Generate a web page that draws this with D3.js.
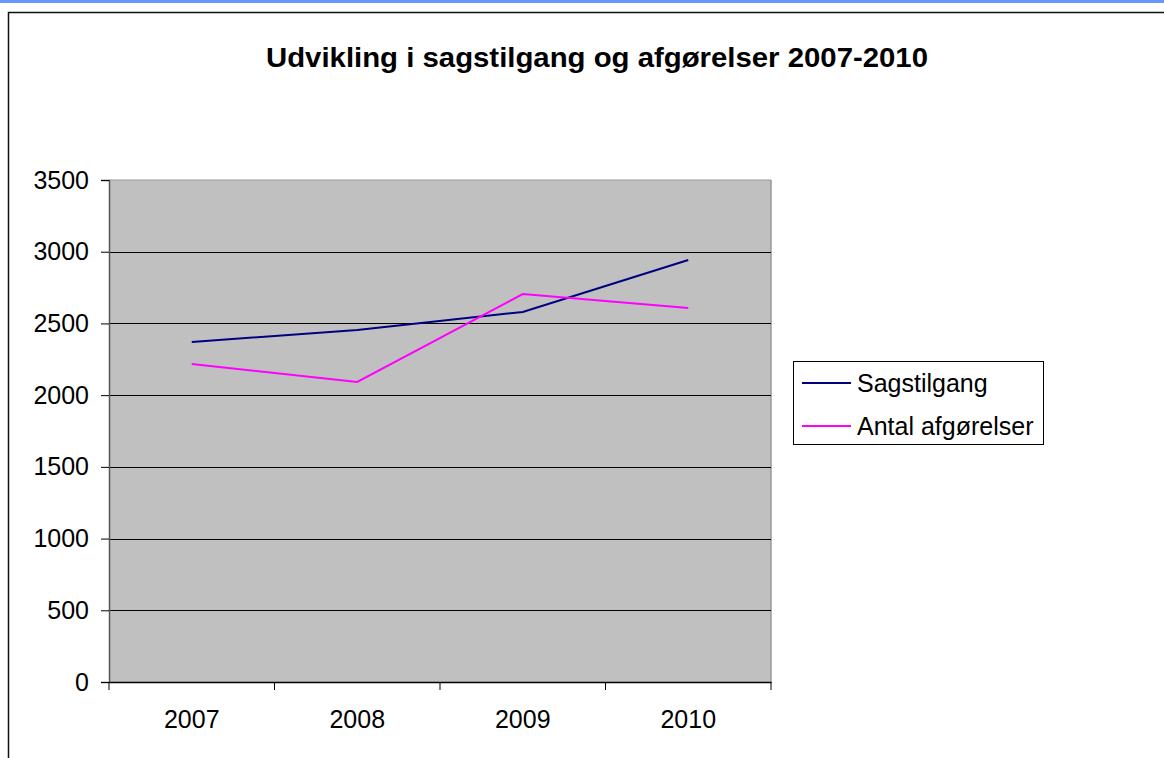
<!DOCTYPE html>
<html>
<head>
<meta charset="utf-8">
<script src="https://cdnjs.cloudflare.com/ajax/libs/d3/7.8.5/d3.min.js"></script>
<style>
  html, body { margin: 0; padding: 0; background: #fff; }
  svg { display: block; font-family: 'Liberation Sans', Arial, sans-serif; }
</style>
</head>
<body>
<div id="chart"></div>
<script>
const title = 'Udvikling i sagstilgang og afgørelser 2007-2010';
const years = ['2007', '2008', '2009', '2010'];
const sagstilgang = [2370, 2455, 2580, 2942];
const afgorelser = [2217, 2092, 2705, 2608];
const yTicks = [0, 500, 1000, 1500, 2000, 2500, 3000, 3500];

const series = [
  { name: 'Sagstilgang', values: sagstilgang, color: '#000080' },
  { name: 'Antal afgørelser', values: afgorelser, color: '#ff00ff' },
];

const font = "'Liberation Sans', Arial, sans-serif";
const w = 1164;
const h = 758;
const m = { t: 180, r: 393, b: 76, l: 109 };

const svg = d3.select('#chart').append('svg').attr('width', w).attr('height', h);

// blue strip at the very top
svg.append('rect').attr('x', 0).attr('y', 0).attr('width', w).attr('height', 3).attr('fill', '#6699ff');

// chart frame (runs off the right and bottom edge)
svg.append('rect')
  .attr('x', 8.5).attr('y', 12.5)
  .attr('width', w + 20).attr('height', h + 20)
  .attr('fill', 'none').attr('stroke', '#111').attr('stroke-width', 1.5);

svg.append('text')
  .attr('x', 597).attr('y', 67)
  .attr('text-anchor', 'middle')
  .attr('font-size', 28).attr('font-weight', 'bold')
  .attr('textLength', 662).attr('lengthAdjust', 'spacingAndGlyphs')
  .text(title);

const x = d3.scaleBand().domain(years).range([m.l, w - m.r]);
const y = d3.scaleLinear().domain([0, 3500]).range([h - m.b, m.t]);

// plot area
svg.append('rect')
  .attr('x', m.l).attr('y', m.t)
  .attr('width', w - m.r - m.l).attr('height', h - m.b - m.t)
  .attr('fill', '#c0c0c0');

svg.append('line')
  .attr('x1', w - m.r).attr('x2', w - m.r)
  .attr('y1', m.t).attr('y2', h - m.b)
  .attr('stroke', '#999').attr('stroke-width', 1.5);
svg.append('line')
  .attr('x1', m.l).attr('x2', w - m.r)
  .attr('y1', m.t).attr('y2', m.t)
  .attr('stroke', '#999').attr('stroke-width', 1);

// gridlines
svg.append('g')
  .selectAll('line')
  .data(yTicks.filter((d) => d > 0 && d < 3500))
  .join('line')
  .attr('x1', m.l).attr('x2', w - m.r)
  .attr('y1', (d) => Math.round(y(d)) + 0.5).attr('y2', (d) => Math.round(y(d)) + 0.5)
  .attr('stroke', '#000').attr('stroke-width', 1);

// y axis
const yAxis = svg.append('g')
  .attr('transform', `translate(${m.l},0)`)
  .attr('font-size', 25).attr('font-family', font)
  .call(d3.axisLeft(y).tickValues(yTicks).tickFormat(d3.format('d')).tickSize(8).tickPadding(12));
yAxis.attr('font-size', 25).attr('font-family', font);
yAxis.select('.domain').attr('stroke', '#555').attr('stroke-width', 1.5);
yAxis.selectAll('.tick line').attr('stroke', '#000');
yAxis.selectAll('text').attr('fill', '#000');

// x axis with ticks at band edges
const xAxis = svg.append('g')
  .attr('transform', `translate(0,${h - m.b})`)
  .call(d3.axisBottom(x).tickSize(0).tickPadding(28));
xAxis.attr('font-size', 25).attr('font-family', font);
xAxis.select('.domain').attr('stroke', '#000').attr('stroke-width', 1.5);
xAxis.selectAll('text').attr('fill', '#000');
const edges = years.map((d) => x(d)).concat([x(years[years.length - 1]) + x.bandwidth()]);
xAxis.selectAll('.edge')
  .data(edges)
  .join('line')
  .attr('class', 'edge')
  .attr('x1', (d) => d).attr('x2', (d) => d)
  .attr('y1', 0).attr('y2', 8)
  .attr('stroke', '#000');

const line = d3.line()
  .x((d, i) => x(years[i]) + x.bandwidth() / 2)
  .y((d) => y(d));

svg.append('g')
  .selectAll('path')
  .data(series)
  .join('path')
  .attr('d', (d) => line(d.values))
  .attr('fill', 'none')
  .attr('stroke', (d) => d.color)
  .attr('stroke-width', 2);

// legend
const lg = svg.append('g').attr('transform', 'translate(793,361)');
lg.append('rect')
  .attr('x', 0.5).attr('y', 0.5).attr('width', 250).attr('height', 83)
  .attr('fill', '#fff').attr('stroke', '#000');
const item = lg.selectAll('.item')
  .data(series)
  .join('g')
  .attr('class', 'item')
  .attr('transform', (d, i) => `translate(0,${22 + i * 43})`);
item.append('line')
  .attr('x1', 9).attr('x2', 58).attr('y1', 0).attr('y2', 0)
  .attr('stroke', (d) => d.color).attr('stroke-width', 2);
item.append('text')
  .attr('x', 64).attr('y', 9)
  .attr('font-size', 25)
  .text((d) => d.name);
</script>
</body>
</html>
